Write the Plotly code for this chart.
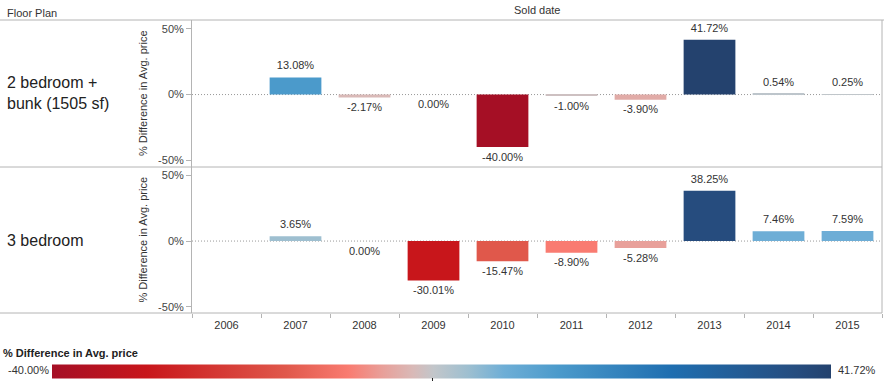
import plotly.graph_objects as go
from plotly.subplots import make_subplots

years = ["2006", "2007", "2008", "2009", "2010", "2011", "2012", "2013", "2014", "2015"]
row_labels = ["2 bedroom +<br>bunk (1505 sf)", "3 bedroom"]
row1_values = [None, 13.08, -2.17, 0.00, -40.00, -1.00, -3.90, 41.72, 0.54, 0.25]
row2_values = [None, 3.65, 0.00, -30.01, -15.47, -8.90, -5.28, 38.25, 7.46, 7.59]
y_ticks = [-50, 0, 50]
y_ticktext = ["-50%", "0%", "50%"]
c_min, c_max = -40.00, 41.72

FONT = "Arial, Liberation Sans, sans-serif"
W, H = 884, 384
L, R, T, B = 192, 2, 20, 71
PW, PH = W - L - R, H - T - B


def px(x):
    return (x - L) / PW


def py(y):
    return (H - B - y) / PH


colorscale = [
    [0.0, "#a50f25"], [0.122, "#c8161b"], [0.30, "#e0584b"], [0.38, "#f97b70"],
    [0.425, "#e8a09a"], [0.463, "#d9b9b7"], [0.49, "#c2c6ca"], [0.534, "#9ebfd0"],
    [0.58, "#6eaed6"], [0.65, "#4b9acb"], [0.795, "#1f6eb0"], [0.958, "#264c7e"],
    [1.0, "#24426e"],
]

fig = make_subplots(rows=2, cols=1, shared_xaxes=True, vertical_spacing=0)

for i, vals in enumerate([row1_values, row2_values], start=1):
    xs = [yr for yr, v in zip(years, vals) if v is not None]
    ys = [v for v in vals if v is not None]
    sfx = "" if i == 1 else str(i)
    fig.add_trace(go.Bar(
        x=xs, y=ys,
        marker=dict(color=ys, coloraxis="coloraxis", line=dict(width=0)),
        showlegend=False, hoverinfo="skip",
    ), row=i, col=1)
    fig.add_trace(go.Scatter(
        x=xs, y=ys, mode="markers+text",
        marker=dict(size=7, color="rgba(0,0,0,0)"),
        text=[f"{v:.2f}%" for v in ys],
        textposition=["top center" if v > 0 else "bottom center" for v in ys],
        textfont=dict(family=FONT, size=11, color="#333"),
        cliponaxis=False, showlegend=False, hoverinfo="skip",
    ), row=i, col=1)
    fig.add_shape(type="line", xref=f"x{sfx} domain", yref=f"y{sfx}",
                  x0=0, x1=1, y0=0, y1=0,
                  line=dict(color="#999", width=1, dash="1px,2px"), layer="below")

yaxis_common = dict(
    range=[-54.8, 56.8], tickvals=y_ticks, ticktext=y_ticktext,
    showgrid=False, zeroline=False, showline=True, linecolor="#b4b4b4", linewidth=1,
    ticks="outside", ticklen=5, tickcolor="#b4b4b4",
    tickfont=dict(family=FONT, size=11, color="#444"),
    title=dict(text="% Difference in Avg. price", standoff=8,
               font=dict(family=FONT, size=11, color="#333")),
    fixedrange=True,
)
fig.update_yaxes(**yaxis_common, row=1, col=1)
fig.update_yaxes(**yaxis_common, row=2, col=1)

fig.update_xaxes(type="category", categoryorder="array", categoryarray=years,
                 range=[-0.5, len(years) - 0.5], fixedrange=True,
                 showgrid=False, zeroline=False, showline=False)
fig.update_xaxes(showticklabels=False, ticks="", row=1, col=1)
fig.update_xaxes(ticks="outside", tickson="boundaries", ticklen=4, tickcolor="#b4b4b4",
                 ticklabelstandoff=4,
                 tickfont=dict(family=FONT, size=11, color="#333"), row=2, col=1)

line_c = "#b4b4b4"
for yy in [20, 167, 313]:
    fig.add_shape(type="line", xref="paper", yref="paper", x0=px(0), x1=px(884 if yy == 20 else 882),
                  y0=py(yy), y1=py(yy), line=dict(color=line_c, width=1))
fig.add_shape(type="line", xref="paper", yref="paper", x0=1, x1=1, y0=py(20), y1=py(313),
              line=dict(color=line_c, width=1))

fig.add_annotation(xref="paper", yref="paper", x=px(5), y=py(13), text="Floor Plan",
                   xanchor="left", yanchor="middle", showarrow=False,
                   font=dict(family=FONT, size=11, color="#333"))
fig.add_annotation(xref="paper", yref="paper", x=0.5, y=py(10), text="Sold date",
                   xanchor="center", yanchor="middle", showarrow=False,
                   font=dict(family=FONT, size=11, color="#333"))
fig.add_annotation(xref="paper", yref="paper", x=px(5), y=py(93), text=row_labels[0],
                   xanchor="left", yanchor="middle", align="left", showarrow=False,
                   font=dict(family=FONT, size=16, color="#222"))
fig.add_annotation(xref="paper", yref="paper", x=px(5), y=py(240), text=row_labels[1],
                   xanchor="left", yanchor="middle", align="left", showarrow=False,
                   font=dict(family=FONT, size=16, color="#222"))
fig.add_annotation(xref="paper", yref="paper", x=px(1), y=py(353),
                   text="<b>% Difference in Avg. price</b>",
                   xanchor="left", yanchor="middle", showarrow=False,
                   font=dict(family=FONT, size=11, color="#222"))
fig.add_annotation(xref="paper", yref="paper", x=px(51), y=py(370),
                   text=f"{c_min:.2f}%", xanchor="right", yanchor="middle", showarrow=False,
                   font=dict(family=FONT, size=11, color="#333"))
fig.add_annotation(xref="paper", yref="paper", x=px(836), y=py(370),
                   text=f"{c_max:.2f}%", xanchor="left", yanchor="middle", showarrow=False,
                   font=dict(family=FONT, size=11, color="#333"))

fig.update_layout(
    width=W, height=H,
    margin=dict(l=L, r=R, t=T, b=B, autoexpand=False),
    paper_bgcolor="white", plot_bgcolor="white",
    bargap=0.25,
    font=dict(family=FONT, size=11, color="#333"),
    coloraxis=dict(
        colorscale=colorscale, cmin=c_min, cmax=c_max,
        colorbar=dict(
            orientation="h", xref="container", yref="container",
            x=66 / W, xanchor="left", y=(H - 372.5) / H, yanchor="middle",
            len=779, lenmode="pixels", thickness=14, thicknessmode="pixels",
            xpad=0, ypad=0, outlinewidth=0,
            tickvals=[0], ticks="outside", ticklen=3, tickcolor="#222",
            showticklabels=False,
        ),
    ),
)

fig.write_html("out.html", config={"displayModeBar": False},
               post_script="document.body.style.margin='0';")
